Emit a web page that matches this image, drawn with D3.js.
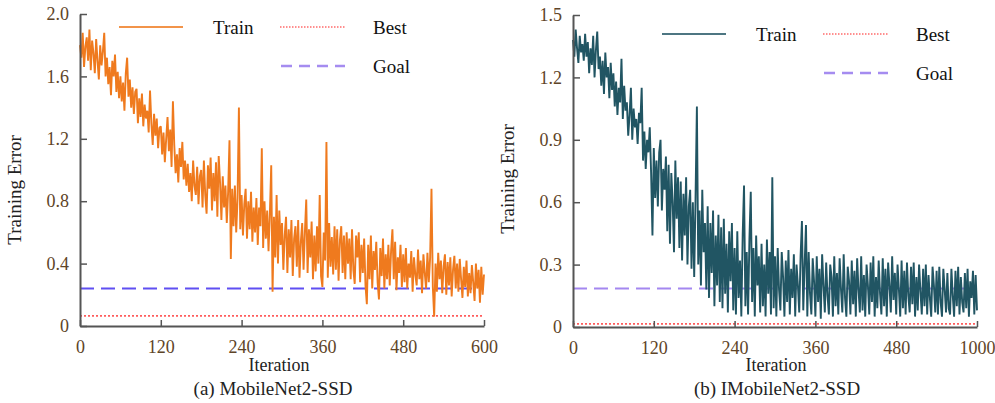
<!DOCTYPE html>
<html lang="en">
<head>
    <meta charset="UTF-8">
    <title>Training Error</title>
    <style>
        body { margin: 0; background: #fff; }
        svg { display: block; font-family: "Liberation Serif", "DejaVu Serif", serif; }
        .axis .tick text { fill: #5e4427; font-size: 18px; font-family: "Liberation Serif", serif; }
        .axis path, .axis line { stroke: #555; }
        .axis path { stroke-width: 2; }
        .axis line { stroke-width: 1.5; }
    </style>
</head>
<body>
    <div id="chart"></div>

    <script src="https://d3js.org/d3.v7.min.js"></script>
    <script>
        // iterations between two stored samples
        const STEP = 2;

        // tick values and labels
        const xTicks = [0, 120, 240, 360, 480, 600];
        const xLabelsA = ["0", "120", "240", "360", "480", "600"];
        const xLabelsB = ["0", "120", "240", "360", "480", "1000"];
        const yTicksA = [0, 0.4, 0.8, 1.2, 1.6, 2.0];
        const yLabelsA = ["0", "0.4", "0.8", "1.2", "1.6", "2.0"];
        const yTicksB = [0, 0.3, 0.6, 0.9, 1.2, 1.5];
        const yLabelsB = ["0", "0.3", "0.6", "0.9", "1.2", "1.5"];

        const seriesNames = ["Train", "Best", "Goal"];
        const captions = ["(a) MobileNet2-SSD", "(b) IMobileNet2-SSD"];

        // reference levels
        const bestA = 0.065, goalA = 0.24;
        const bestB = 0.015, goalB = 0.185;

        // training error, one value every STEP iterations (10 per row = 20 iterations)
        const trainA = [
            1.80, 1.72, 1.88, 1.66, 1.79, 1.85, 1.70, 1.90, 1.64, 1.83,
            1.75, 1.62, 1.84, 1.70, 1.58, 1.80, 1.67, 1.76, 1.88, 1.60,
            1.72, 1.55, 1.66, 1.48, 1.70, 1.60, 1.74, 1.50, 1.63, 1.46,
            1.60, 1.44, 1.56, 1.38, 1.62, 1.72, 1.47, 1.58, 1.40, 1.53,
            1.36, 1.50, 1.52, 1.30, 1.46, 1.34, 1.49, 1.28, 1.42, 1.33,
            1.38, 1.24, 1.51, 1.30, 1.16, 1.36, 1.22, 1.33, 1.14, 1.27,
            1.28, 1.10, 1.24, 1.05, 1.20, 1.34, 1.12, 1.26, 1.02, 1.44,
            1.16, 0.98, 1.10, 0.92, 1.14, 1.02, 1.18, 0.94, 1.06, 0.90,
            1.04, 0.86, 0.98, 0.80, 1.06, 0.90, 0.84, 1.02, 0.78, 0.96,
            1.00, 0.76, 1.06, 0.84, 0.72, 1.03, 0.88, 1.08, 0.74, 0.98,
            0.80, 1.05, 0.70, 1.09, 0.92, 0.68, 0.96, 0.76, 0.90, 0.66,
            0.86, 1.19, 0.43, 0.88, 0.64, 0.90, 0.60, 0.82, 1.40, 0.62,
            0.84, 0.58, 0.78, 0.88, 0.56, 0.80, 0.62, 0.86, 0.54, 0.76,
            0.60, 0.82, 0.52, 0.76, 0.64, 1.14, 0.50, 0.80, 0.56, 0.74,
            0.48, 0.72, 1.03, 0.22, 0.70, 0.44, 0.84, 0.40, 0.74, 0.52,
            0.66, 0.36, 0.58, 0.70, 0.34, 0.62, 0.44, 0.68, 0.32, 0.56,
            0.64, 0.38, 0.68, 0.31, 0.54, 0.66, 0.36, 0.60, 0.81, 0.34,
            0.62, 0.44, 0.67, 0.30, 0.58, 0.35, 0.64, 0.40, 0.84, 0.32,
            0.25, 0.60, 0.42, 1.18, 0.31, 0.66, 0.38, 0.57, 0.33, 0.64,
            0.36, 0.62, 0.29, 0.55, 0.64, 0.34, 0.58, 0.30, 0.60, 0.40,
            0.56, 0.30, 0.62, 0.36, 0.27, 0.58, 0.44, 0.60, 0.28, 0.52,
            0.34, 0.56, 0.26, 0.14, 0.52, 0.30, 0.58, 0.24, 0.48, 0.36,
            0.54, 0.28, 0.17, 0.50, 0.32, 0.56, 0.24, 0.46, 0.30, 0.52,
            0.26, 0.48, 0.62, 0.30, 0.54, 0.23, 0.44, 0.34, 0.52, 0.25,
            0.46, 0.28, 0.50, 0.24, 0.40, 0.31, 0.48, 0.22, 0.44, 0.33,
            0.26, 0.49, 0.30, 0.42, 0.21, 0.46, 0.34, 0.24, 0.47, 0.28,
            0.44, 0.88, 0.25, 0.06, 0.40, 0.22, 0.47, 0.30, 0.42, 0.21,
            0.38, 0.46, 0.20, 0.41, 0.26, 0.44, 0.19, 0.36, 0.45, 0.24,
            0.40, 0.22, 0.43, 0.30, 0.18, 0.38, 0.25, 0.42, 0.19, 0.34,
            0.21, 0.39, 0.28, 0.16, 0.40, 0.24, 0.36, 0.15, 0.38, 0.20,
            0.33
        ];

        const trainB = [
            1.38, 1.30, 1.43, 1.34, 1.27, 1.40, 1.32, 1.36, 1.28, 1.41,
            1.30, 1.37, 1.22, 1.34, 1.26, 1.40, 1.20, 1.33, 1.42, 1.24,
            1.30, 1.16, 1.28, 1.12, 1.32, 1.20, 1.25, 1.10, 1.27, 1.14,
            1.22, 1.06, 1.18, 1.02, 1.15, 1.08, 1.29, 1.00, 1.16, 1.04,
            1.08, 0.92, 1.02, 1.15, 0.90, 1.05, 0.96, 1.00, 0.88, 1.03,
            0.98, 1.15, 0.80, 0.94, 0.76, 0.90, 0.84, 0.96, 0.74, 0.44,
            0.86, 0.62, 0.80, 0.58, 0.84, 0.90, 0.56, 0.76, 0.66, 0.82,
            0.46, 0.78, 0.40, 0.74, 0.60, 0.36, 0.80, 0.52, 0.72, 0.38,
            0.70, 0.32, 0.64, 0.44, 0.72, 0.30, 0.58, 0.66, 0.28, 0.60,
            0.24, 0.62, 1.06, 0.30, 0.56, 0.20, 0.66, 0.36, 0.50, 0.18,
            0.58, 0.14, 0.50, 0.26, 0.56, 0.10, 0.44, 0.20, 0.54, 0.12,
            0.48, 0.09, 0.52, 0.16, 0.40, 0.07, 0.46, 0.22, 0.50, 0.08,
            0.38, 0.06, 0.46, 0.14, 0.32, 0.05, 0.44, 0.68, 0.10, 0.36,
            0.06, 0.42, 0.65, 0.12, 0.38, 0.05, 0.44, 0.20, 0.34, 0.07,
            0.40, 0.10, 0.30, 0.05, 0.42, 0.16, 0.36, 0.06, 0.72, 0.09,
            0.34, 0.05, 0.38, 0.18, 0.08, 0.36, 0.24, 0.05, 0.32, 0.12,
            0.37, 0.06, 0.28, 0.14, 0.35, 0.05, 0.30, 0.20, 0.07, 0.34,
            0.51, 0.08, 0.30, 0.49, 0.05, 0.36, 0.16, 0.06, 0.33, 0.22,
            0.05, 0.34, 0.12, 0.28, 0.04, 0.35, 0.20, 0.07, 0.31, 0.15,
            0.06, 0.30, 0.24, 0.05, 0.34, 0.10, 0.26, 0.06, 0.33, 0.18,
            0.07, 0.35, 0.14, 0.05, 0.29, 0.22, 0.06, 0.32, 0.11, 0.27,
            0.05, 0.33, 0.18, 0.07, 0.34, 0.08, 0.25, 0.05, 0.30, 0.20,
            0.06, 0.31, 0.12, 0.34, 0.05, 0.24, 0.09, 0.32, 0.16, 0.06,
            0.33, 0.10, 0.28, 0.05, 0.31, 0.20, 0.07, 0.34, 0.13, 0.26,
            0.06, 0.30, 0.18, 0.05, 0.32, 0.09, 0.27, 0.06, 0.31, 0.15,
            0.07, 0.29, 0.11, 0.31, 0.05, 0.24, 0.08, 0.30, 0.17, 0.06,
            0.28, 0.10, 0.30, 0.06, 0.25, 0.14, 0.05, 0.29, 0.20, 0.07,
            0.27, 0.06, 0.29, 0.12, 0.05, 0.28, 0.18, 0.07, 0.26, 0.09,
            0.06, 0.28, 0.15, 0.05, 0.27, 0.10, 0.29, 0.06, 0.24, 0.12,
            0.07, 0.26, 0.09, 0.28, 0.05, 0.22, 0.14, 0.27, 0.06, 0.25,
            0.08
        ];

        const svg = d3.select("#chart")
            .append("svg")
            .attr("width", 995)
            .attr("height", 403);

        function drawPanel(p) {
            const x = d3.scaleLinear().domain([0, 600]).range([p.left, p.right]);
            const y = d3.scaleLinear().domain([0, p.yMax]).range([p.bottom, p.top]);
            const g = svg.append("g");

            // reference lines (under the curve)
            g.append("line")
                .attr("x1", x(0)).attr("x2", x(600))
                .attr("y1", y(p.goal)).attr("y2", y(p.goal))
                .attr("stroke", p.goalColor)
                .attr("stroke-width", 2)
                .attr("stroke-dasharray", "14,7");
            g.append("line")
                .attr("x1", x(0)).attr("x2", x(600))
                .attr("y1", y(p.best)).attr("y2", y(p.best))
                .attr("stroke", "#ff5c5c")
                .attr("stroke-width", 1.8)
                .attr("stroke-dasharray", "2,2");

            // training curve
            const line = d3.line()
                .x((d, i) => x(i * STEP))
                .y(d => y(d));
            g.append("path")
                .datum(p.train)
                .attr("d", line)
                .attr("fill", "none")
                .attr("stroke", p.color)
                .attr("stroke-width", 1.9)
                .attr("stroke-linejoin", "bevel");

            // axes with inward ticks
            g.append("g")
                .attr("class", "axis")
                .attr("transform", `translate(0,${p.bottom})`)
                .call(d3.axisBottom(x)
                    .tickValues(xTicks)
                    .tickFormat((d, i) => p.xLabels[i])
                    .tickSizeInner(-6)
                    .tickSizeOuter(0)
                    .tickPadding(14))
                .attr("font-family", null)
                .attr("font-size", null);
            g.append("g")
                .attr("class", "axis")
                .attr("transform", `translate(${p.left},0)`)
                .call(d3.axisLeft(y)
                    .tickValues(p.yTicks)
                    .tickFormat((d, i) => p.yLabels[i])
                    .tickSizeInner(-7)
                    .tickSizeOuter(0)
                    .tickPadding(11))
                .attr("font-family", null)
                .attr("font-size", null);

            // axis titles and caption
            g.append("text")
                .attr("x", p.titleX).attr("y", 371)
                .attr("text-anchor", "middle")
                .attr("font-size", 18)
                .attr("fill", "#222")
                .text("Iteration");
            g.append("text")
                .attr("transform", `translate(${p.left - 59},${p.yTitleY}) rotate(-90)`)
                .attr("text-anchor", "middle")
                .attr("font-size", 19)
                .attr("fill", "#222")
                .text("Training Error");
            g.append("text")
                .attr("x", p.captionX).attr("y", 395)
                .attr("text-anchor", "middle")
                .attr("font-size", 19)
                .attr("fill", "#222")
                .text(p.caption);

            // legend
            const lg = g.append("g").attr("transform", `translate(${p.legX},${p.legY})`);
            lg.append("line").attr("x1", 0).attr("x2", 64).attr("y1", 0).attr("y2", 0)
                .attr("stroke", p.color).attr("stroke-width", 2).attr("opacity", 0.8);
            lg.append("text").attr("x", 94).attr("y", 7).attr("font-size", 19)
                .attr("fill", "#111").text(seriesNames[0]);
            lg.append("line").attr("x1", 161).attr("x2", 226).attr("y1", 0).attr("y2", 0)
                .attr("stroke", "#ff6b6b").attr("stroke-width", 1.5).attr("stroke-dasharray", "1.5,1.5");
            lg.append("text").attr("x", 254).attr("y", 7).attr("font-size", 19)
                .attr("fill", "#111").text(seriesNames[1]);
            lg.append("line").attr("x1", 162).attr("x2", 226).attr("y1", 39).attr("y2", 39)
                .attr("stroke", "#a58cf0").attr("stroke-width", 2.5).attr("stroke-dasharray", "11,7");
            lg.append("text").attr("x", 254).attr("y", 46).attr("font-size", 19)
                .attr("fill", "#111").text(seriesNames[2]);
        }

        drawPanel({
            left: 80, right: 484, top: 14, bottom: 326, yMax: 2.0,
            yTicks: yTicksA, yLabels: yLabelsA, xLabels: xLabelsA,
            train: trainA, best: bestA, goal: goalA,
            color: "#ef7a1e", goalColor: "#5f4ff2",
            titleX: 279, yTitleY: 190, captionX: 273, caption: captions[0],
            legX: 119, legY: 27
        });

        drawPanel({
            left: 573, right: 977, top: 15, bottom: 327, yMax: 1.5,
            yTicks: yTicksB, yLabels: yLabelsB, xLabels: xLabelsB,
            train: trainB, best: bestB, goal: goalB,
            color: "#215563", goalColor: "#a487f0",
            titleX: 776, yTitleY: 179, captionX: 777, caption: captions[1],
            legX: 662, legY: 34
        });
    </script>
</body>
</html>
